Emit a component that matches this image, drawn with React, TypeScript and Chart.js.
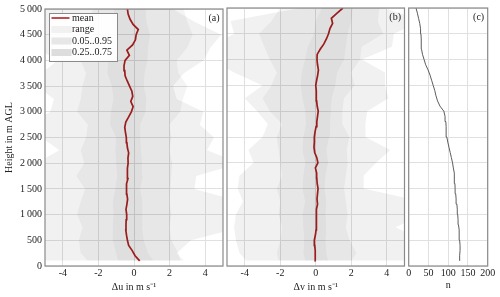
import React, { useEffect, useRef } from 'react';
import { Chart, registerables } from 'chart.js';

Chart.register(...registerables);

// ---------- data ----------
const meanHeights = [100, 200, 300, 400, 500, 600, 700, 800, 900, 1000, 1100, 1200, 1300, 1400, 1500, 1600, 1700, 1800, 1900, 2000, 2100, 2200, 2300, 2400, 2500, 2600, 2700, 2800, 2900, 3000, 3100, 3200, 3300, 3400, 3500, 3600, 3700, 3800, 3900, 4000, 4100, 4200, 4300, 4400, 4500, 4600, 4700, 4800, 4900, 5000];

const meanU = [0.32, 0.06, -0.1, -0.3, -0.37, -0.42, -0.46, -0.45, -0.44, -0.41, -0.45, -0.4, -0.36, -0.4, -0.44, -0.4, -0.34, -0.36, -0.38, -0.33, -0.34, -0.3, -0.37, -0.4, -0.43, -0.48, -0.52, -0.46, -0.3, -0.15, -0.05, -0.18, -0.07, -0.12, -0.25, -0.38, -0.5, -0.52, -0.56, -0.5, -0.26, -0.4, -0.08, 0.08, 0.12, 0.24, -0.05, -0.22, -0.33, -0.37];

const meanV = [0.0, -0.02, -0.04, -0.06, -0.08, -0.02, 0.02, 0.02, 0.03, 0.04, 0.06, 0.1, 0.07, 0.1, 0.13, 0.08, 0.06, 0.05, -0.02, 0.12, 0.06, -0.06, -0.1, -0.08, -0.08, -0.04, 0.02, 0.06, 0.1, 0.14, 0.08, 0.05, 0.04, 0.02, 0.0, 0.05, 0.11, 0.15, 0.1, 0.07, 0.08, 0.25, 0.45, 0.6, 0.72, 0.8, 0.95, 0.88, 1.2, 1.53];

const countN = [129, 129, 130, 130, 129, 128, 127.5, 126, 125, 124, 123, 122, 120, 119, 117.5, 117, 116, 115, 113, 111, 108, 105, 102, 99, 96.5, 95, 94.5, 94, 92, 89, 79, 73, 69, 66, 62, 58, 54, 49, 43, 39, 35, 32.5, 32, 31.5, 31, 30, 28, 25, 22, 18.5];

const bandHeights = [100, 250, 500, 750, 1000, 1250, 1500, 1750, 2000, 2250, 2500, 2750, 3000, 3250, 3500, 3750, 4000, 4250, 4500, 4750, 5000];

const uMin = [-6, -6, -6, -6, -6, -6, -6, -6, -5.5, -4.2, -5.2, -6, -4.7, -4.5, -5.5, -5.2, -4.3, -5.5, -6, -6, -6];
const uQ05 = [-2.6, -3.0, -3.1, -2.9, -3.2, -3.0, -2.75, -3.25, -2.8, -3.0, -2.7, -2.6, -3.2, -3.0, -2.9, -2.7, -3.0, -2.7, -2.9, -2.6, -2.3];
const uQ25 = [-0.9, -1.0, -1.2, -1.2, -1.15, -1.2, -1.05, -0.95, -1.0, -1.05, -1.0, -1.35, -1.3, -1.15, -1.25, -1.5, -1.45, -1.35, -1.1, -1.2, -1.1];
const uQ75 = [1.1, 0.8, 0.55, 0.45, 0.5, 0.45, 0.35, 0.5, 0.45, 0.4, 0.35, 0.35, 0.65, 0.7, 0.55, 0.6, 0.75, 0.8, 0.9, 0.7, 0.65];
const uQ95 = [2.6, 2.5, 2.1, 2.0, 2.1, 2.0, 2.05, 2.1, 2.15, 2.0, 2.1, 2.0, 2.6, 2.75, 3.0, 2.5, 2.4, 3.0, 3.3, 3.0, 2.8];
const uMax = [2.8, 2.4, 3.2, 6, 6, 6, 3.4, 3.5, 6, 4.1, 4.5, 3.7, 3.9, 2.4, 2.2, 2.8, 3.9, 4.3, 4.9, 3.4, 2.2];

const vMin = [-3.9, -4.3, -4.5, -4.6, -4.5, -4.1, -4.4, -4.3, -3.5, -3.8, -3.0, -2.7, -3.3, -4.0, -3.0, -4.6, -6, -6, -4.6, -4.8, -0.9];
const vQ05 = [-2.1, -2.2, -2.0, -1.9, -2.1, -2.0, -2.2, -1.9, -2.0, -2.1, -2.2, -1.9, -2.6, -3.0, -2.5, -2.2, -2.6, -2.9, -3.2, -2.5, -2.0];
const vQ25 = [-0.6, -0.7, -0.65, -0.7, -0.75, -0.6, -0.75, -0.7, -0.6, -0.75, -0.7, -0.55, -0.6, -0.75, -0.85, -0.8, -0.6, -0.45, -0.1, 0.0, 0.35];
const vQ75 = [0.7, 0.6, 0.55, 0.6, 0.55, 0.6, 0.5, 0.55, 0.7, 0.6, 0.75, 0.8, 0.85, 0.9, 1.1, 1.2, 1.6, 1.7, 1.8, 2.0, 2.1];
const vQ95 = [2.0, 2.3, 1.9, 1.7, 1.8, 1.7, 1.6, 1.7, 1.8, 1.75, 1.9, 1.5, 1.5, 1.6, 2.2, 2.0, 2.5, 2.6, 3.8, 3.5, 3.6];
const vMax = [6, 6, 6, 4.5, 6, 6, 2.7, 2.7, 3.4, 4.2, 2.8, 2.8, 2.9, 4.1, 3.9, 3.9, 2.6, 4.3, 4.4, 6, 3.9];

const heightTicks = [0, 500, 1000, 1500, 2000, 2500, 3000, 3500, 4000, 4500, 5000];
const heightTickLabels = ['0', '500', '1\u2009000', '1\u2009500', '2\u2009000', '2\u2009500', '3\u2009000', '3\u2009500', '4\u2009000', '4\u2009500', '5\u2009000'];
const deltaTicks = [-4, -2, 0, 2, 4];
const countTicks = [0, 50, 100, 150, 200];

const legendLabels = ['mean', 'range', '0.05..0.95', '0.25..0.75'];

// ---------- styles ----------
const FONT = "'Liberation Serif', 'Times New Roman', serif";
const TEXT = '#222';
const GRID = '#e0e0e0';
const FRAME = '#8a8a8a';
const MEAN_COLOR = '#b22222';
const RANGE_FILL = 'rgba(0,0,0,0.055)';
const Q90_FILL = 'rgba(0,0,0,0.042)';
const Q50_FILL = 'rgba(0,0,0,0.04)';
const LEGEND_PATCH = ['#f1f1f1', '#e7e7e7', '#dddddd'];

const pts = (hs: number[], vs: number[]) => hs.map((h, i) => ({ x: vs[i], y: h }));

function bandDatasets(mn: number[], q05: number[], q25: number[], q75: number[], q95: number[], mx: number[]) {
  const base = { borderWidth: 0, borderColor: 'rgba(0,0,0,0)', pointRadius: 0, tension: 0 };
  return [
    { ...base, label: 'range-lo', data: pts(bandHeights, mn), fill: false },
    { ...base, label: 'range', data: pts(bandHeights, mx), fill: '-1', backgroundColor: RANGE_FILL },
    { ...base, label: 'q05', data: pts(bandHeights, q05), fill: false },
    { ...base, label: '0.05..0.95', data: pts(bandHeights, q95), fill: '-1', backgroundColor: Q90_FILL },
    { ...base, label: 'q25', data: pts(bandHeights, q25), fill: false },
    { ...base, label: '0.25..0.75', data: pts(bandHeights, q75), fill: '-1', backgroundColor: Q50_FILL },
  ];
}

const framePlugin = {
  id: 'frame',
  afterDraw(chart: any, _args: any, opts: any) {
    const { ctx, chartArea: a } = chart;
    ctx.save();
    ctx.strokeStyle = FRAME;
    ctx.lineWidth = 1.2;
    ctx.strokeRect(a.left, a.top, a.right - a.left, a.bottom - a.top);
    ctx.fillStyle = TEXT;
    ctx.font = `10px ${FONT}`;
    ctx.textAlign = 'right';
    ctx.textBaseline = 'middle';
    if (opts && opts.text) ctx.fillText(opts.text, a.right - 3.5, a.top + 9);
    ctx.restore();
  },
};

const legendPlugin = {
  id: 'boxLegend',
  afterDraw(chart: any, _args: any, opts: any) {
    if (!opts || !opts.show) return;
    const { ctx, chartArea: a } = chart;
    const x0 = a.left + 4.5;
    const y0 = a.top + 4.5;
    const w = 68;
    const h = 48;
    ctx.save();
    ctx.fillStyle = 'rgba(255,255,255,0.92)';
    ctx.fillRect(x0, y0, w, h);
    ctx.strokeStyle = '#8a8a8a';
    ctx.lineWidth = 1;
    ctx.strokeRect(x0, y0, w, h);
    ctx.font = `10px ${FONT}`;
    ctx.textBaseline = 'middle';
    ctx.textAlign = 'left';
    legendLabels.forEach((lab, i) => {
      const cy = y0 + 4.5 + i * 11.5;
      if (i === 0) {
        ctx.strokeStyle = MEAN_COLOR;
        ctx.lineWidth = 1.6;
        ctx.beginPath();
        ctx.moveTo(x0 + 2, cy);
        ctx.lineTo(x0 + 20, cy);
        ctx.stroke();
      } else {
        ctx.fillStyle = LEGEND_PATCH[i - 1];
        ctx.fillRect(x0 + 2, cy - 3.5, 20, 7);
      }
      ctx.fillStyle = TEXT;
      ctx.fillText(lab, x0 + 22.5, cy);
    });
    ctx.restore();
  },
};

const tickFont = { family: FONT, size: 10 };

function makeConfig(kind: 'a' | 'b' | 'c') {
  const showY = kind === 'a';
  let datasets: any[] = [];
  if (kind === 'a') {
    datasets = [
      ...bandDatasets(uMin, uQ05, uQ25, uQ75, uQ95, uMax),
      { label: 'mean', data: pts(meanHeights, meanU), borderColor: MEAN_COLOR, borderWidth: 1.7, pointRadius: 0, fill: false, tension: 0 },
    ];
  } else if (kind === 'b') {
    datasets = [
      ...bandDatasets(vMin, vQ05, vQ25, vQ75, vQ95, vMax),
      { label: 'mean', data: pts(meanHeights, meanV), borderColor: MEAN_COLOR, borderWidth: 1.7, pointRadius: 0, fill: false, tension: 0 },
    ];
  } else {
    datasets = [
      { label: 'n', data: pts(meanHeights, countN), borderColor: '#4a4a4a', borderWidth: 0.9, pointRadius: 0, fill: false, tension: 0 },
    ];
  }
  const padding =
    kind === 'a'
      ? { left: 0, right: 277, top: 8, bottom: 0 }
      : kind === 'b'
      ? { left: 227, right: 95.5, top: 8, bottom: 0 }
      : { left: 408.7, right: 12.3, top: 8, bottom: 0 };
  const xTicks = kind === 'c' ? countTicks : deltaTicks;
  const xTitle = kind === 'a' ? 'Δu in m s⁻¹' : kind === 'b' ? 'Δv in m s⁻¹' : 'n';
  return {
    type: 'line',
    data: { datasets },
    plugins: [framePlugin, legendPlugin],
    options: {
      indexAxis: 'y',
      animation: false,
      responsive: false,
      devicePixelRatio: 1,
      layout: { padding },
      plugins: {
        legend: { display: false },
        tooltip: { enabled: false },
        frame: { text: `(${kind})` },
        boxLegend: { show: kind === 'a' },
      },
      scales: {
        x: {
          type: 'linear',
          min: kind === 'c' ? 0 : -5,
          max: kind === 'c' ? 200 : 5,
          afterBuildTicks: (s: any) => {
            s.ticks = xTicks.map((value) => ({ value }));
          },
          afterFit: (s: any) => {
            s.height = 31;
          },
          grid: { color: GRID, lineWidth: 1, drawTicks: false },
          border: { display: false },
          ticks: { font: tickFont, color: TEXT, padding: 1, maxRotation: 0, autoSkip: false },
          title: {
            display: true,
            text: xTitle,
            font: tickFont,
            color: TEXT,
            padding: { top: 0, bottom: kind === 'c' ? 5.5 : 3.5 },
          },
        },
        y: {
          type: 'linear',
          min: 0,
          max: 5000,
          afterBuildTicks: (s: any) => {
            s.ticks = heightTicks.map((value) => ({ value }));
          },
          afterFit: (s: any) => {
            s.width = showY ? 45 : 0;
          },
          grid: { color: GRID, lineWidth: 1, drawTicks: false },
          border: { display: false },
          ticks: {
            display: showY,
            font: tickFont,
            color: TEXT,
            padding: 3,
            autoSkip: false,
            callback: (_v: any, i: number) => heightTickLabels[i],
          },
          title: {
            display: showY,
            text: 'Height in m AGL',
            font: tickFont,
            color: TEXT,
            padding: { top: 3, bottom: 0 },
          },
        },
      },
    },
  } as any;
}

export default function App() {
  const refA = useRef<HTMLCanvasElement | null>(null);
  const refB = useRef<HTMLCanvasElement | null>(null);
  const refC = useRef<HTMLCanvasElement | null>(null);

  useEffect(() => {
    const charts = [
      new Chart(refA.current as HTMLCanvasElement, makeConfig('a')),
      new Chart(refB.current as HTMLCanvasElement, makeConfig('b')),
      new Chart(refC.current as HTMLCanvasElement, makeConfig('c')),
    ];
    return () => charts.forEach((c) => c.destroy());
  }, []);

  const cs: React.CSSProperties = { position: 'absolute', left: 0, top: 0, width: 500, height: 297 };
  return (
    <div style={{ position: 'absolute', left: 0, top: 0, width: 500, height: 297, background: '#fff' }}>
      <canvas ref={refA} width={500} height={297} style={cs} />
      <canvas ref={refB} width={500} height={297} style={cs} />
      <canvas ref={refC} width={500} height={297} style={cs} />
    </div>
  );
}
